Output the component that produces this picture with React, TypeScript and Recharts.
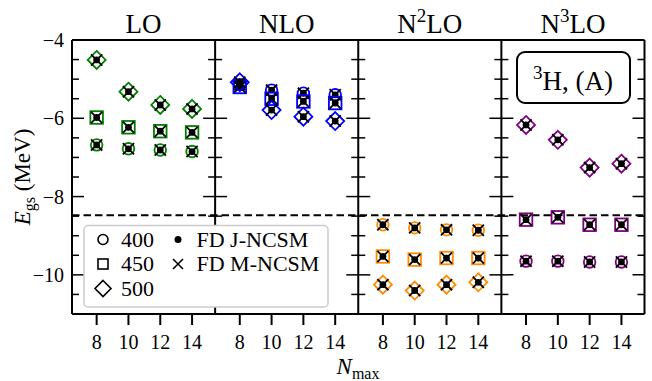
import React from "react";
import { ScatterChart, Scatter, XAxis, YAxis, ReferenceLine } from "recharts";

// panels (chiral orders) and model space sizes
const PANELS = ["LO", "NLO", "N2LO", "N3LO"];
const PANEL_COLORS = ["#008000", "#0000ff", "#ff8c00", "#800080"];
const NMAX = [8, 10, 12, 14];
const CUTOFFS = [400, 450, 500];

// ground-state energies (MeV), one array per order and cutoff
const LO_400 = [-6.68, -6.78, -6.81, -6.85];
const LO_450 = [-5.98, -6.23, -6.33, -6.36];
const LO_500 = [-4.51, -5.32, -5.66, -5.76];
const NLO_400 = [-5.14, -5.28, -5.36, -5.4];
const NLO_450 = [-5.2, -5.5, -5.57, -5.61];
const NLO_500 = [-5.08, -5.79, -5.96, -6.07];
const N2LO_400 = [-8.72, -8.8, -8.85, -8.86];
const N2LO_450 = [-9.53, -9.61, -9.57, -9.57];
const N2LO_500 = [-10.25, -10.4, -10.25, -10.19];
const N3LO_400 = [-9.65, -9.65, -9.67, -9.67];
const N3LO_450 = [-8.59, -8.53, -8.72, -8.72];
const N3LO_500 = [-6.17, -6.55, -7.26, -7.16];

const ENERGIES = [
  [LO_400, LO_450, LO_500],
  [NLO_400, NLO_450, NLO_500],
  [N2LO_400, N2LO_450, N2LO_500],
  [N3LO_400, N3LO_450, N3LO_500],
];

const EXPERIMENT = -8.48;
const Y_LABEL_TICKS = [-4, -6, -8, -10];
const Y_MINOR_TICKS = [
  -4.5, -5, -5.5, -6, -6.5, -7, -7.5, -8, -8.5, -9, -9.5, -10, -10.5,
];

// each panel spans 9 units of the shared x axis
const PANEL_SPAN = 9;
const NMAX_OFFSET = 6.45;
const X_MAX = PANEL_SPAN * PANELS.length;
const xOf = (p: number, n: number) => p * PANEL_SPAN + n - NMAX_OFFSET;

const FONT = "'Liberation Serif', 'Times New Roman', serif";
const SHAPES = ["circle", "square", "diamond"];

const X_TICKS = PANELS.flatMap((_, p) => NMAX.map((n) => xOf(p, n)));
const TITLE_TICKS = PANELS.map((_, p) => p * PANEL_SPAN + PANEL_SPAN / 2);
const BORDERS = [0, 9, 18, 27, 36];
const TICK_POINTS = BORDERS.flatMap((b) =>
  Y_MINOR_TICKS.map((y) => ({ x: b, y, major: Y_LABEL_TICKS.includes(y) }))
);

function makePoint(color: string, kind: string) {
  return (props: any) => {
    const { cx, cy } = props;
    if (cx == null || cy == null) return <g />;
    let marker;
    if (kind === "circle") {
      marker = <circle cx={cx} cy={cy} r={5.8} fill="none" stroke={color} strokeWidth={1.8} />;
    } else if (kind === "square") {
      marker = (
        <rect x={cx - 6.3} y={cy - 6.3} width={12.6} height={12.6} fill="none" stroke={color} strokeWidth={1.8} />
      );
    } else {
      const d = 9;
      marker = (
        <path
          d={`M${cx},${cy - d}L${cx + d},${cy}L${cx},${cy + d}L${cx - d},${cy}Z`}
          fill="none"
          stroke={color}
          strokeWidth={1.8}
        />
      );
    }
    const a = 5.6;
    return (
      <g>
        {marker}
        <circle cx={cx} cy={cy} r={3.4} fill="#000" />
        <path
          d={`M${cx - a},${cy - a}L${cx + a},${cy + a}M${cx - a},${cy + a}L${cx + a},${cy - a}`}
          stroke="#000"
          strokeWidth={1.8}
        />
      </g>
    );
  };
}

const tickShape = (props: any) => {
  const { cx, cy, payload } = props;
  if (cx == null || cy == null) return <g />;
  const len = payload.major ? 12 : 7;
  const left = payload.x > 0 ? len : 0;
  const right = payload.x < X_MAX ? len : 0;
  return <line x1={cx - left} x2={cx + right} y1={cy} y2={cy} stroke="#000" strokeWidth={1.5} />;
};

const TitleTick = (props: any) => {
  const { x, y, payload } = props;
  const name = PANELS[Math.floor(payload.value / PANEL_SPAN)];
  const m = name.match(/^N(\d)LO$/);
  return (
    <text x={x} y={y + 1} textAnchor="middle" fontFamily={FONT} fontSize={27} fill="#000">
      {m ? (
        <>
          N
          <tspan dy={-11} fontSize={19}>
            {m[1]}
          </tspan>
          <tspan dy={11}>LO</tspan>
        </>
      ) : (
        name
      )}
    </text>
  );
};

const YLabel = () => (
  <text
    x={30}
    y={177}
    transform="rotate(-90, 30, 177)"
    textAnchor="middle"
    fontFamily={FONT}
    fontSize={23}
    fill="#000"
  >
    <tspan fontStyle="italic">E</tspan>
    <tspan fontSize={16} dy={5}>
      gs
    </tspan>
    <tspan dy={-5}> (MeV)</tspan>
  </text>
);

const XLabel = () => (
  <text x={358} y={374} textAnchor="middle" fontFamily={FONT} fontSize={23} fill="#000">
    <tspan fontStyle="italic">N</tspan>
    <tspan fontSize={16} dy={5}>
      max
    </tspan>
  </text>
);

const minus = (v: number) => String(v).replace("-", "\u2212");

function Overlay() {
  const rows = [239.5, 264, 288.5];
  return (
    <svg
      width={652}
      height={381}
      style={{ position: "absolute", left: 0, top: 0, pointerEvents: "none" }}
    >
      {/* legend */}
      <rect x={84} y={225.5} width={244} height={81.5} rx={4} fill="#fff" stroke="#cccccc" strokeWidth={1.5} />
      <circle cx={103} cy={rows[0]} r={5} fill="none" stroke="#000" strokeWidth={1.6} />
      <rect x={98} y={rows[1] - 5} width={10} height={10} fill="none" stroke="#000" strokeWidth={1.6} />
      <path
        d={`M103,${rows[2] - 8}L111,${rows[2]}L103,${rows[2] + 8}L95,${rows[2]}Z`}
        fill="none"
        stroke="#000"
        strokeWidth={1.6}
      />
      <circle cx={178} cy={rows[0]} r={3.5} fill="#000" />
      <path
        d={`M173,${rows[1] - 5}L183,${rows[1] + 5}M173,${rows[1] + 5}L183,${rows[1] - 5}`}
        stroke="#000"
        strokeWidth={1.6}
      />
      {CUTOFFS.map((c, i) => (
        <text key={c} x={121} y={rows[i] + 7.3} fontFamily={FONT} fontSize={22} fill="#000">
          {c}
        </text>
      ))}
      <text x={196.5} y={rows[0] + 7.3} fontFamily={FONT} fontSize={22} fill="#000">
        FD J-NCSM
      </text>
      <text x={196.5} y={rows[1] + 7.3} fontFamily={FONT} fontSize={22} fill="#000">
        FD M-NCSM
      </text>

      {/* nucleus / interaction box */}
      <rect x={517} y={52} width={113} height={51} rx={8} fill="#fff" stroke="#000" strokeWidth={2} />
      <text x={573} y={90} textAnchor="middle" fontFamily={FONT} fontSize={27} fill="#000">
        <tspan dy={-11} fontSize={19}>
          3
        </tspan>
        <tspan dy={11}>H, (A)</tspan>
      </text>
    </svg>
  );
}

export default function App() {
  return (
    <div style={{ position: "absolute", left: 0, top: 0, width: 652, height: 381, background: "#fff" }}>
      <ScatterChart width={652} height={381} margin={{ top: 0, right: 7.5, bottom: 37, left: 0 }}>
        <XAxis
          dataKey="x"
          type="number"
          domain={[0, X_MAX]}
          ticks={X_TICKS}
          interval={0}
          tickFormatter={(v: number) => String(Math.round((v % PANEL_SPAN) + NMAX_OFFSET))}
          tickSize={11}
          tickMargin={10}
          height={30}
          axisLine={{ stroke: "#000", strokeWidth: 2 }}
          tickLine={{ stroke: "#000", strokeWidth: 2 }}
          tick={{ fontSize: 20, fill: "#000", fontFamily: FONT }}
          label={{ content: () => <XLabel /> }}
        />
        <XAxis
          xAxisId="top"
          orientation="top"
          dataKey="x"
          type="number"
          domain={[0, X_MAX]}
          allowDataOverflow
          ticks={TITLE_TICKS}
          interval={0}
          height={40}
          tickLine={false}
          axisLine={{ stroke: "#000", strokeWidth: 2 }}
          tick={(props: any) => <TitleTick {...props} />}
        />
        <YAxis
          dataKey="y"
          type="number"
          domain={[-11, -4]}
          ticks={Y_LABEL_TICKS}
          interval={0}
          width={72}
          tickLine={false}
          tickFormatter={minus}
          axisLine={{ stroke: "#000", strokeWidth: 2 }}
          tick={{ fontSize: 20, fill: "#000", fontFamily: FONT }}
          label={{ content: () => <YLabel /> }}
        />
        <ReferenceLine y={EXPERIMENT} stroke="#000" strokeWidth={2} strokeDasharray="7.5 4" />
        {BORDERS.slice(1).map((b) => (
          <ReferenceLine key={b} x={b} stroke="#000" strokeWidth={2} />
        ))}
        <Scatter xAxisId="top" data={TICK_POINTS} shape={tickShape} isAnimationActive={false} />
        {ENERGIES.map((group, p) =>
          group.map((vals, c) => (
            <Scatter
              key={`${p}-${c}`}
              name={`${PANELS[p]} ${CUTOFFS[c]}`}
              data={vals.map((y, i) => ({ x: xOf(p, NMAX[i]), y }))}
              shape={makePoint(PANEL_COLORS[p], SHAPES[c])}
              isAnimationActive={false}
            />
          ))
        )}
      </ScatterChart>
      <Overlay />
    </div>
  );
}
